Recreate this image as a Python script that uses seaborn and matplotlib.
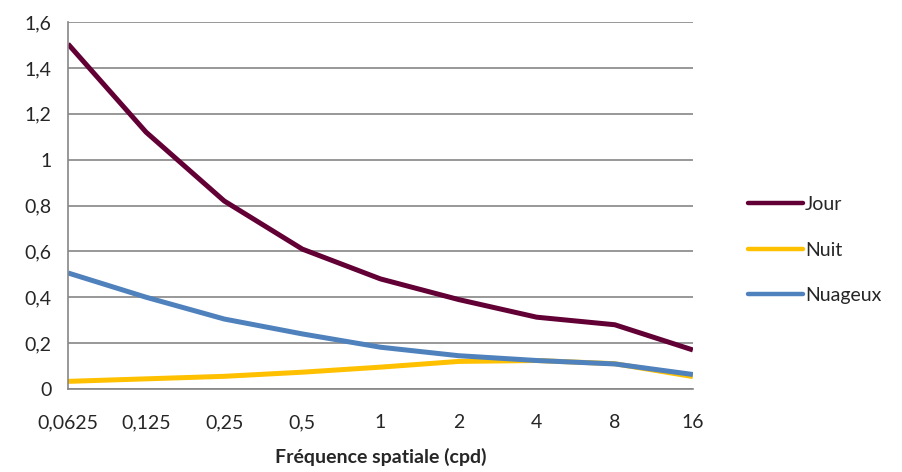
import pandas as pd
import matplotlib.pyplot as plt
import seaborn as sns

frequences = ["0,0625", "0,125", "0,25", "0,5", "1", "2", "4", "8", "16"]
jour = [1.505, 1.12, 0.82, 0.61, 0.48, 0.39, 0.313, 0.28, 0.17]
nuit = [0.033, 0.044, 0.055, 0.073, 0.095, 0.12, 0.124, 0.11, 0.054]
nuageux = [0.506, 0.40, 0.305, 0.24, 0.182, 0.145, 0.124, 0.109, 0.063]

series = {"Jour": jour, "Nuit": nuit, "Nuageux": nuageux}
colors = {"Jour": "#620036", "Nuit": "#FFC000", "Nuageux": "#4F81BD"}

rows = []
for name, vals in series.items():
    for i, v in enumerate(vals):
        rows.append({"pos": i, "valeur": v, "serie": name})
df = pd.DataFrame(rows)

sns.set_style("white")
plt.rcParams['font.family'] = ['Lato', 'DejaVu Sans']

fig = plt.figure(figsize=(9.03, 4.72), dpi=100)
ax = fig.add_axes([0.0753, 0.176, 0.692, 0.777])

sns.lineplot(data=df, x="pos", y="valeur", hue="serie", palette=colors,
             hue_order=list(series.keys()), linewidth=3.6, sort=False,
             solid_capstyle="butt", solid_joinstyle="round", ax=ax, legend=True)

grid_c = "#868686"
ax.set_xlim(0, len(frequences) - 1)
ax.set_ylim(0, 1.6)
ax.set_yticks([i * 0.2 for i in range(9)])
ax.set_yticklabels(["0", "0,2", "0,4", "0,6", "0,8", "1", "1,2", "1,4", "1,6"])
ax.set_xticks(range(len(frequences)))
ax.set_xticklabels(frequences)
ax.yaxis.grid(True, color=grid_c, linewidth=1.2)
ax.xaxis.grid(False)
ax.set_axisbelow(True)
for s in ["top", "right"]:
    ax.spines[s].set_visible(False)
for s in ["left", "bottom"]:
    ax.spines[s].set_color(grid_c)
    ax.spines[s].set_linewidth(1.2)
ax.tick_params(axis="both", which="major", direction="out", length=6,
               width=1.2, color=grid_c, labelsize=14, pad=6)
ax.tick_params(axis="x", pad=12)
ax.set_ylabel("")
ax.set_xlabel("Fréquence spatiale (cpd)", fontsize=14, fontweight="bold", labelpad=12)

handles, labels = ax.get_legend_handles_labels()
ax.legend(handles, labels, loc="center left", bbox_to_anchor=(0.818, 0.47),
          bbox_transform=fig.transFigure, frameon=False, fontsize=14,
          handlelength=2.8, handletextpad=0.1, labelspacing=1.47, borderpad=0)
for line in ax.get_legend().get_lines():
    line.set_linewidth(3.2)
    line.set_solid_capstyle("round")

fig.savefig("out.png", dpi=100)
